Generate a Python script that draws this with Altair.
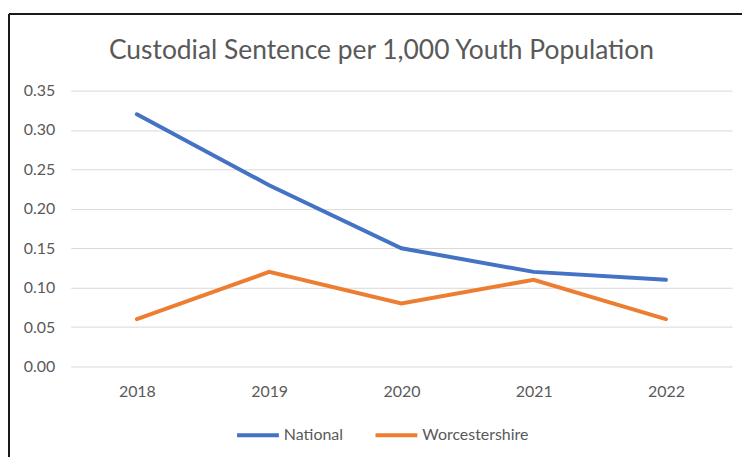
import altair as alt
import pandas as pd

years = ["2018", "2019", "2020", "2021", "2022"]
national = [0.32, 0.23, 0.15, 0.12, 0.11]
worcestershire = [0.06, 0.12, 0.08, 0.11, 0.06]
series_names = ["National", "Worcestershire"]
colors = ["#4472C4", "#ED7D31"]

rows = []
for name, vals in zip(series_names, [national, worcestershire]):
    for y, v in zip(years, vals):
        rows.append({"Year": y, "Series": name, "Value": v})
df = pd.DataFrame(rows)

FONT = "Lato"
TXT = "#595959"

lines = alt.Chart(df).mark_line(strokeWidth=4, strokeCap="round").encode(
    x=alt.X("Year:O", sort=years,
            scale=alt.Scale(type="point", padding=0.5),
            axis=alt.Axis(title=None, labelAngle=0, domain=False, ticks=False,
                          grid=False, labelPadding=17, labelFontSize=16,
                          labelColor=TXT, labelFont=FONT)),
    y=alt.Y("Value:Q", scale=alt.Scale(domain=[0, 0.35], nice=False),
            axis=alt.Axis(title=None, values=[0, 0.05, 0.1, 0.15, 0.2, 0.25, 0.3, 0.35],
                          format=".2f", domain=False, ticks=False,
                          gridColor="#D9D9D9", gridWidth=1, labelPadding=16,
                          labelFontSize=16, labelColor=TXT, labelFont=FONT)),
    color=alt.Color("Series:N", sort=series_names,
                    scale=alt.Scale(domain=series_names, range=colors),
                    legend=alt.Legend(title=None, orient="none", direction="horizontal",
                                      legendX=165, legendY=323,
                                      symbolType="stroke", symbolSize=1764,
                                      symbolStrokeWidth=4, labelFontSize=16,
                                      labelColor=TXT, labelFont=FONT,
                                      columnPadding=24, labelOffset=3)),
)

frame_top = alt.Chart(df).mark_rule(color="#1a1a1a", strokeWidth=2).encode(
    x=alt.value(-62), x2=alt.value(700), y=alt.value(-77)
)
frame_left = alt.Chart(df).mark_rule(color="#1a1a1a", strokeWidth=2).encode(
    x=alt.value(-62), x2=alt.value(-62), y=alt.value(-77), y2=alt.value(420)
)

chart = alt.layer(frame_top, frame_left, lines).properties(
    width=664, height=277,
    background="white",
    title=alt.TitleParams("Custodial Sentence per 1,000 Youth Population",
                          fontSize=26.5, font=FONT, fontWeight="normal",
                          color=TXT, anchor="middle", offset=-52, dx=-20),
    autosize=alt.AutoSizeParams(type="none"),
    padding={"left": 63, "top": 82, "right": 10, "bottom": 100},
).configure_view(
    stroke="transparent", strokeWidth=0
).configure_axis(
    domain=False, domainOpacity=0, tickOpacity=0
).configure_axisX(
    grid=False, gridOpacity=0
)

chart.save("out.html", embed_options={"renderer": "svg", "actions": False})
